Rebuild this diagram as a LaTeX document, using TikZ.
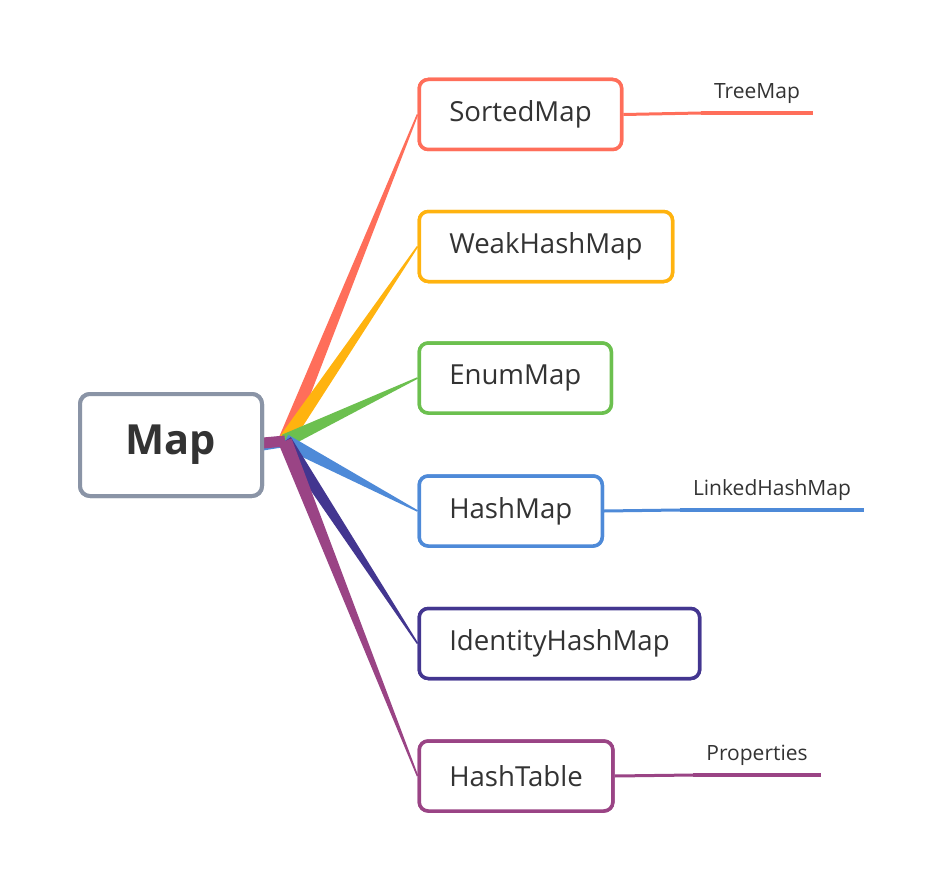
\documentclass[tikz,border=0pt]{standalone}
\usepackage{fontspec}
\setmainfont{Open Sans}
\usetikzlibrary{calc}
\definecolor{cgray}{HTML}{8A94A6}
\definecolor{cred}{HTML}{FF6E5A}
\definecolor{corange}{HTML}{FFB30F}
\definecolor{cgreen}{HTML}{6CC04F}
\definecolor{cblue}{HTML}{4E8AD8}
\definecolor{cindigo}{HTML}{433690}
\definecolor{cpurple}{HTML}{9A4485}
\definecolor{txt}{HTML}{333333}
\newcommand\mybranch[4]{\fill[#1] ($(#2)!#4!90:(#3)$) -- ($(#3)!0.8pt!-90:(#2)$) -- ($(#3)!0.8pt!90:(#2)$) -- ($(#2)!#4!-90:(#3)$) -- cycle;}
\tikzset{
  mapbox/.style={draw=cgray, line width=4pt, rounded corners=10pt, fill=white,
    minimum width=182pt, minimum height=102pt, text=txt,
    font=\fontsize{41.5}{46}\selectfont\bfseries},
  box/.style={draw=#1, line width=3.5pt, rounded corners=9pt, fill=white,
    minimum height=70pt, inner xsep=30pt, anchor=west, text=txt,
    font=\fontsize{27.6}{32}\selectfont},
  leaf/.style={text=txt, font=\fontsize{21}{24}\selectfont, inner xsep=13pt,
    inner ysep=9pt, anchor=south},
  thinline/.style={draw=#1, line width=3pt},
  thickline/.style={draw=#1, line width=4.5pt},
}
\begin{document}
\begin{tikzpicture}[x=1pt,y=-1pt]
\useasboundingbox (0,0) rectangle (940,888);
\coordinate (J) at (285,441);
\coordinate (ps) at (263,443);
\coordinate (bs) at (263,449);
\path
  (171,445) node[mapbox] (map) {Map}
  (417.5,114.5) node[box=cred] (sorted) {SortedMap}
  (417.5,246.5) node[box=corange] (weak) {WeakHashMap}
  (417.5,378) node[box=cgreen] (enum) {EnumMap}
  (417.5,511) node[box=cblue] (hash) {HashMap}
  (417.5,643.5) node[box=cindigo] (ident) {IdentityHashMap}
  (417.5,776) node[box=cpurple] (table) {HashTable};
% branches
\mybranch{cred}{J}{sorted.west}{7pt}
\mybranch{corange}{J}{weak.west}{7pt}
\mybranch{cgreen}{J}{enum.west}{7pt}
\draw[cblue, line width=3pt] (bs) -- ($(J)+(3,4)$);
\mybranch{cblue}{J}{hash.west}{7pt}
\mybranch{cindigo}{J}{ident.west}{7pt}
\mybranch{cpurple}{J}{table.west}{7pt}
\draw[cpurple, line width=11pt] (ps) -- (J);
% redraw boxes over branch ends
\path
  (171,445) node[mapbox] {Map}
  (417.5,114.5) node[box=cred] {SortedMap}
  (417.5,246.5) node[box=corange] {WeakHashMap}
  (417.5,378) node[box=cgreen] {EnumMap}
  (417.5,511) node[box=cblue] {HashMap}
  (417.5,643.5) node[box=cindigo] {IdentityHashMap}
  (417.5,776) node[box=cpurple] {HashTable};
% leaves
\node[leaf] (tree) at (757,113) {TreeMap};
\node[leaf] (linked) at (772,510) {LinkedHashMap};
\node[leaf] (props) at (757,775) {Properties};
\draw[thinline=cred] (sorted.east) -- (tree.south west);
\draw[thickline=cred] (tree.south west) -- (tree.south east);
\draw[thinline=cblue] (hash.east) -- (linked.south west);
\draw[thickline=cblue] (linked.south west) -- (linked.south east);
\draw[thinline=cpurple] (table.east) -- (props.south west);
\draw[thickline=cpurple] (props.south west) -- (props.south east);
\end{tikzpicture}
\end{document}
